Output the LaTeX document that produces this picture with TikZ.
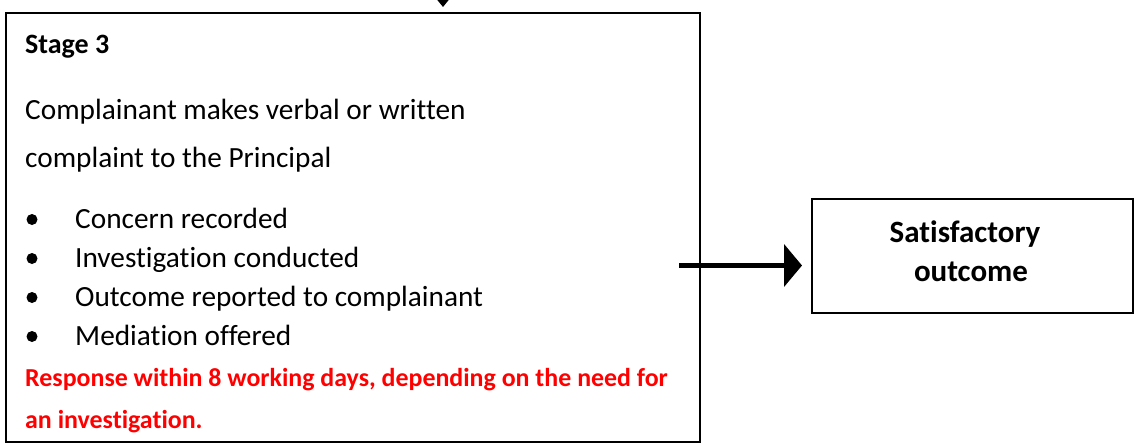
\documentclass[tikz,border=0pt]{standalone}
\usepackage{fontspec}
\setmainfont{Carlito}[Ligatures=NoCommon]
\usetikzlibrary{arrows.meta,positioning}

\begin{document}
\begin{tikzpicture}[x=1pt,y=-1pt,
    box/.style={draw, line width=2pt, inner sep=0pt},
    body/.style={anchor=base west, inner sep=0pt, font=\fontsize{29.3}{34}\selectfont},
    head/.style={anchor=base west, inner sep=0pt, font=\bfseries\fontsize{28}{34}\selectfont},
    redtxt/.style={anchor=base west, inner sep=0pt, text=red, font=\bfseries\fontsize{25.9}{30}\selectfont},
    outtxt/.style={anchor=base, inner sep=0pt, font=\bfseries\fontsize{31}{37}\selectfont}]
    \useasboundingbox (0,0) rectangle (1136,444);
    \clip (0,0) rectangle (1136,444);

    % Stage 3 box
    \node[box, anchor=north west, minimum width=694pt, minimum height=429pt] (stage) at (5,12) {};
    \node[head] (title) at (25,54) {Stage 3};
    \node[body] (line1) at (25,119) {Complainant makes verbal or written};
    \node[body] (line2) at (25,167) {complaint to the Principal};
    \foreach \y/\t [count=\i] in {228/Concern recorded, 267/Investigation conducted,
                                  306/Outcome reported to complainant, 345/Mediation offered} {
        \fill (32,\y-8.5) circle (5.5pt);
        \node[body] (item\i) at (75,\y) {\t};
    }
    \node[redtxt] (resp1) at (25,386) {Response within 8 working days, depending on the need for};
    \node[redtxt] (resp2) at (25,428) {an investigation.};

    % outcome box
    \node[box, anchor=north west, minimum width=321pt, minimum height=114pt] (outcome) at (811,198) {};
    \node[outtxt] (sat) at (965,242) {Satisfactory};
    \node[outtxt] (out) at (971,281) {outcome};

    % arrows
    \coordinate (above) at (443,-20);
    \coordinate (from) at (679,265.5);
    \draw[line width=1.5pt, -{Triangle[length=7pt,width=11pt]}, shorten >=5pt] (above) -- (stage.north -| above);
    \draw[line width=5pt, -{Triangle[length=18pt,width=42pt]}, shorten >=9pt] (from) -- (outcome.west |- from);
\end{tikzpicture}
\end{document}
